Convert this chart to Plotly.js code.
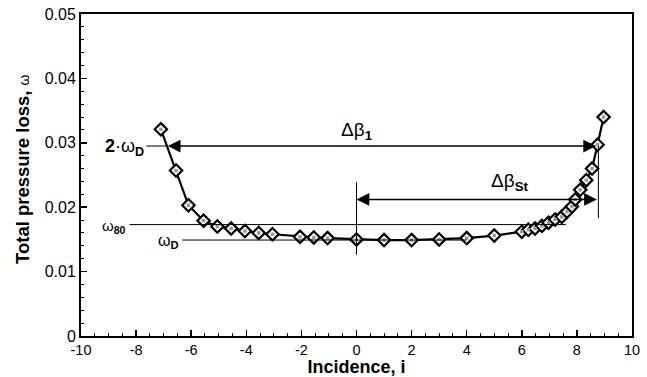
<!DOCTYPE html>
<html>
<head>
<meta charset="utf-8">
<script src="https://cdn.plot.ly/plotly-3.0.1.min.js"></script>
<style>html,body{margin:0;padding:0;background:#fff;}#chart{width:647px;height:377px;}</style>
</head>
<body>
<div id="chart"></div>
<script>
const incidence = [-7.1, -6.55, -6.1, -5.55, -5.05, -4.55, -4.05, -3.55, -3.05, -2.05, -1.55, -1.05, 0, 1, 2, 3, 4, 5,
  6.0, 6.24, 6.48, 6.73, 6.97, 7.21, 7.45, 7.64, 7.82, 7.94, 8.12, 8.34, 8.55, 8.75, 8.97];
const loss = [0.0321, 0.0257, 0.0203, 0.0179, 0.0170, 0.0167, 0.0163, 0.0160, 0.0158, 0.0154, 0.0153, 0.0152, 0.0150, 0.0149, 0.0149, 0.0150, 0.0152, 0.0156,
  0.0162, 0.0165, 0.0167, 0.0171, 0.0176, 0.0181, 0.0185, 0.0193, 0.0201, 0.0212, 0.0227, 0.0242, 0.0260, 0.0297, 0.0340];
const xTicks = [-10, -8, -6, -4, -2, 0, 2, 4, 6, 8, 10];
const yTicks = [0, 0.01, 0.02, 0.03, 0.04, 0.05];

const omegaD = 0.0149;
const omega80 = 0.0173;
const twoOmegaD = 0.0295;
const stY = 0.0212;

const FONT = 'Liberation Sans, Arial, sans-serif';

const traces = [
  {x: incidence, y: loss, mode: 'lines+markers', type: 'scatter',
   line: {color: '#000', width: 2.2},
   marker: {symbol: 'diamond', size: 9.5, color: '#fff', line: {color: '#000', width: 2.2}},
   hoverinfo: 'skip', showlegend: false},
  {x: incidence, y: loss, mode: 'markers', type: 'scatter',
   marker: {symbol: 'square', size: 3.5, color: '#9a9a9a'},
   hoverinfo: 'skip', showlegend: false}
];

const shapes = [
  {type: 'line', x0: -8.24, x1: 7.6, y0: omega80, y1: omega80, line: {color: '#000', width: 1}},
  {type: 'line', x0: -6.32, x1: 4, y0: omegaD, y1: omegaD, line: {color: '#000', width: 1}},
  {type: 'line', x0: -7.63, x1: -6.85, y0: twoOmegaD, y1: twoOmegaD, line: {color: '#000', width: 1}},
  {type: 'line', x0: 0, x1: 0, y0: 0.0126, y1: 0.0239, line: {color: '#000', width: 1}},
  {type: 'line', x0: 8.78, x1: 8.78, y0: 0.0183, y1: twoOmegaD, line: {color: '#000', width: 1}}
];

const annotations = [
  {x: -6.85, y: twoOmegaD, ax: 8.75, ay: twoOmegaD, xref: 'x', yref: 'y', axref: 'x', ayref: 'y',
   text: '', showarrow: true, arrowhead: 2, arrowside: 'end+start', arrowsize: 1.7, arrowwidth: 1.5, arrowcolor: '#000'},
  {x: 0, y: stY, ax: 8.78, ay: stY, xref: 'x', yref: 'y', axref: 'x', ayref: 'y',
   text: '', showarrow: true, arrowhead: 2, arrowside: 'end+start', arrowsize: 1.7, arrowwidth: 1.5, arrowcolor: '#000'},
  {x: 0, y: 0.0319, xref: 'x', yref: 'y', text: 'Δβ<sub><b>1</b></sub>', showarrow: false,
   font: {family: FONT, size: 19, color: '#000'}},
  {x: 5.55, y: 0.0239, xref: 'x', yref: 'y', text: 'Δβ<sub><b>St</b></sub>', showarrow: false,
   font: {family: FONT, size: 19, color: '#000'}},
  {x: -7.65, y: 0.0292, xref: 'x', yref: 'y', xanchor: 'right', text: '<b>2</b>·ω<sub><b>D</b></sub>', showarrow: false,
   font: {family: FONT, size: 18, color: '#000'}},
  {x: -8.3, y: 0.0170, xref: 'x', yref: 'y', xanchor: 'right', text: 'ω<sub><b>80</b></sub>', showarrow: false,
   font: {family: FONT, size: 15, color: '#000'}},
  {x: -6.38, y: 0.0146, xref: 'x', yref: 'y', xanchor: 'right', text: 'ω<sub><b>D</b></sub>', showarrow: false,
   font: {family: FONT, size: 16, color: '#000'}},
  {x: 0, y: 0.5, xref: 'paper', yref: 'paper', xanchor: 'center', yanchor: 'middle', xshift: -59, yshift: 6,
   textangle: -90, showarrow: false,
   text: '<b>Total pressure loss,</b> <span style="font-size:14px">ω</span>',
   font: {family: FONT, size: 18.5, color: '#000'}}
];

const axisCommon = {
  showgrid: false, zeroline: false, showline: true, linecolor: '#000', linewidth: 2, mirror: true,
  ticks: 'inside', ticklen: 6, tickwidth: 1.5, tickcolor: '#000'
};

const layout = {
  width: 647, height: 377,
  margin: {l: 81, r: 15, t: 14, b: 41},
  paper_bgcolor: '#fff', plot_bgcolor: '#fff',
  xaxis: Object.assign({}, axisCommon, {
    range: [-10, 10], tickvals: xTicks, ticktext: xTicks.map(String),
    tickfont: {family: FONT, size: 14.5, color: '#000'},
    minor: {dtick: 0.5, ticks: 'inside', ticklen: 3, tickcolor: '#000', tickwidth: 1},
    title: {text: '<b>Incidence, i</b>', standoff: 6,
            font: {family: FONT, size: 18, color: '#000'}}
  }),
  yaxis: Object.assign({}, axisCommon, {
    range: [0, 0.05], tickvals: yTicks, ticktext: yTicks.map(v => v === 0 ? '0' : v.toFixed(2)),
    tickfont: {family: FONT, size: 16, color: '#000'},
    minor: {dtick: 0.002, ticks: 'inside', ticklen: 3, tickcolor: '#000', tickwidth: 1}
  }),
  shapes: shapes,
  annotations: annotations,
  showlegend: false
};

Plotly.newPlot('chart', traces, layout, {displayModeBar: false, staticPlot: true});
</script>
</body>
</html>
